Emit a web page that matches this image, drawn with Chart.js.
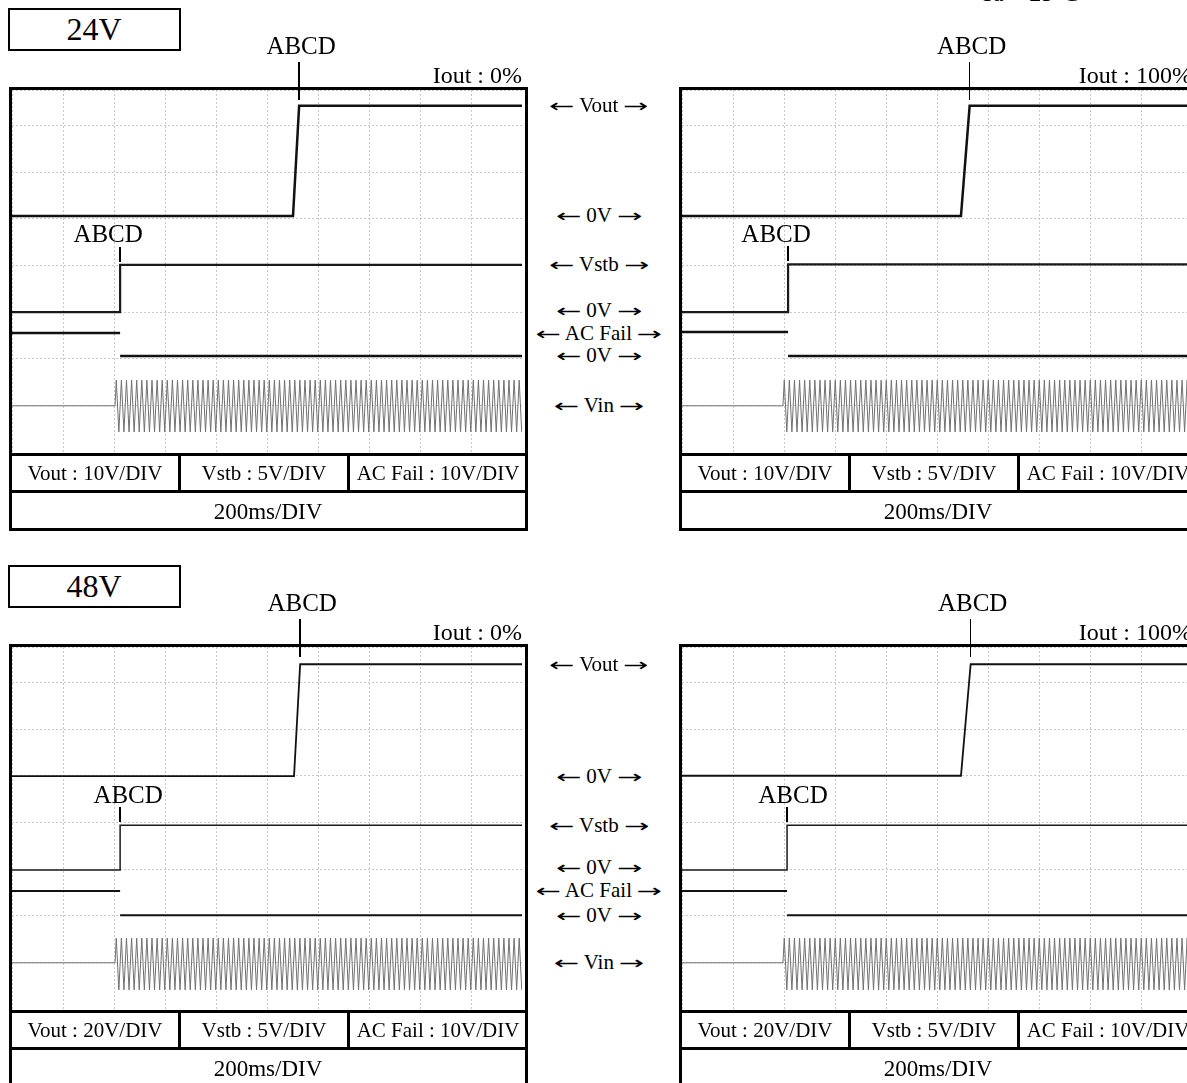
<!DOCTYPE html>
<html>
<head>
<meta charset="utf-8">
<script src="https://cdn.jsdelivr.net/npm/chart.js@4.4.1/dist/chart.umd.min.js"></script>
<style>
  body { margin: 0; background: #fff; }
  #page { position: relative; width: 1187px; height: 1083px; overflow: hidden;
          font-family: "Liberation Serif", "Times New Roman", serif; color: #000; }
  .t { position: absolute; white-space: nowrap; line-height: 1; }
  .arr { display: inline-block; font-family: "DejaVu Sans", sans-serif; font-size: 0.85em;
         transform: scaleX(1.7); margin: 0 5px; }
  .box { position: absolute; border: 3px solid #000; box-sizing: border-box; }
  .ln { position: absolute; background: #000; }
  canvas { position: absolute; }
</style>
</head>
<body>
<div id="page"></div>
<script>
// values are in scope divisions (x: 0..10 div, y: 0 = bottom of screen)
// panel order: 24V Iout 0%, 24V Iout 100%, 48V Iout 0%, 48V Iout 100%
const supplies = ['24V', '48V'];
const loads = ['Iout : 0%', 'Iout : 100%', 'Iout : 0%', 'Iout : 100%'];
const voutDiv = ['Vout : 10V/DIV', 'Vout : 10V/DIV', 'Vout : 20V/DIV', 'Vout : 20V/DIV'];
const vstbDiv = ['Vstb : 5V/DIV', 'Vstb : 5V/DIV', 'Vstb : 5V/DIV', 'Vstb : 5V/DIV'];
const acDiv = ['AC Fail : 10V/DIV', 'AC Fail : 10V/DIV', 'AC Fail : 10V/DIV', 'AC Fail : 10V/DIV'];
const timeDiv = ['200ms/DIV', '200ms/DIV', '200ms/DIV', '200ms/DIV'];
const markerText = 'ABCD';
const sideLabels = ['← Vout →', '← 0V →', '← Vstb →', '← 0V →', '← AC Fail →', '← 0V →', '← Vin →'];

const voutLow = [5.06, 5.06, 4.99, 5.0];
const voutHigh = [7.42, 7.42, 7.39, 7.39];
const voutRiseStart = [5.51, 5.47, 5.53, 5.47];
const voutRiseEnd = [5.63, 5.64, 5.65, 5.66];
const vstbLow = [3.0, 3.0, 2.98, 2.98];
const vstbHigh = [4.01, 4.02, 3.94, 3.94];
const vstbRise = [2.12, 2.08, 2.12, 2.06];
const acHigh = [2.55, 2.57, 2.53, 2.53];
const acLow = [2.06, 2.06, 2.01, 2.01];
const acFall = [2.12, 2.08, 2.12, 2.06];
const vinStart = [2.02, 1.98, 2.02, 1.98];
const vinLevel = [0.99, 0.99, 0.99, 0.99];
const vinPeak = [1.54, 1.54, 1.52, 1.52];
const vinTrough = [0.43, 0.43, 0.41, 0.41];
const vinHalfCycle = 0.05; // 50 Hz mains at 200ms/DIV

// layout
const page = document.getElementById('page');
const PLOT = { left: 12, top: 90, width: 510, height: 362 };
const panelDX = [0, 670, 0, 670];
const panelDY = [0, 0, 557, 557];
const stbLabelShift = [-12, -12, 8, 6];
const lineW = [2.5, 2.5, 1.8, 1.8];

function text(s, x, y, size, align) {
  const d = document.createElement('div');
  d.className = 't';
  d.textContent = s;
  d.style.fontSize = size + 'px';
  d.style.top = (y - size / 2) + 'px';
  if (align === 'right') {
    d.style.right = (1187 - x) + 'px';
  } else if (align === 'left') {
    d.style.left = x + 'px';
  } else {
    d.style.left = x + 'px';
    d.style.transform = 'translateX(-50%)';
  }
  page.appendChild(d);
  return d;
}
function rect(cls, x, y, w, h) {
  const d = document.createElement('div');
  d.className = cls;
  d.style.left = x + 'px'; d.style.top = y + 'px';
  d.style.width = w + 'px'; d.style.height = h + 'px';
  page.appendChild(d);
  return d;
}
// side label: arrows stretched to the long thin shape, words in the serif
function arrowLabel(s, x, y, size) {
  const d = text('', x, y, size);
  s.split(' ').forEach((part, k, all) => {
    const sp = document.createElement('span');
    if (part === '←' || part === '→') sp.className = 'arr';
    sp.textContent = part;
    d.appendChild(sp);
    if (k < all.length - 1) d.appendChild(document.createTextNode(' '));
  });
}

function vinPoints(i) {
  const pts = [{ x: 0, y: vinLevel[i] }, { x: vinStart[i], y: vinLevel[i] }];
  let up = true;
  for (let t = vinStart[i] + vinHalfCycle / 2; t < 10; t += vinHalfCycle) {
    pts.push({ x: t, y: up ? vinPeak[i] : vinTrough[i] });
    up = !up;
  }
  return pts;
}

const charts = [];
for (let i = 0; i < 4; i++) {
  const dx = panelDX[i], dy = panelDY[i];
  const cv = document.createElement('canvas');
  cv.width = PLOT.width; cv.height = PLOT.height;
  cv.style.left = (dx + PLOT.left) + 'px';
  cv.style.top = (dy + PLOT.top) + 'px';
  cv.style.width = PLOT.width + 'px';
  cv.style.height = PLOT.height + 'px';
  page.appendChild(cv);

  const ch = new Chart(cv.getContext('2d'), {
    type: 'line',
    data: {
      datasets: [{
        label: 'Vout',
        data: [{ x: 0, y: voutLow[i] }, { x: voutRiseStart[i], y: voutLow[i] },
               { x: voutRiseEnd[i], y: voutHigh[i] }, { x: 10, y: voutHigh[i] }],
        borderColor: '#111', borderWidth: lineW[i]
      }, {
        label: 'Vstb',
        data: [{ x: 0, y: vstbLow[i] }, { x: vstbRise[i], y: vstbLow[i] },
               { x: vstbRise[i], y: vstbHigh[i] }, { x: 10, y: vstbHigh[i] }],
        borderColor: '#1a1a1a', borderWidth: lineW[i] - 0.3
      }, {
        label: 'AC Fail',
        data: [{ x: 0, y: acHigh[i] }, { x: acFall[i], y: acHigh[i] }, { x: acFall[i], y: null },
               { x: acFall[i], y: acLow[i] }, { x: 10, y: acLow[i] }],
        borderColor: '#111', borderWidth: lineW[i]
      }, {
        label: 'Vin',
        data: vinPoints(i),
        borderColor: '#707070', borderWidth: 1
      }]
    },
    options: {
      responsive: false,
      animation: false,
      devicePixelRatio: 1,
      layout: { padding: 0 },
      elements: { point: { radius: 0 }, line: { tension: 0 } },
      plugins: { legend: { display: false }, tooltip: { enabled: false } },
      scales: {
        x: {
          type: 'linear', min: 0, max: 10,
          ticks: { display: false, stepSize: 1 },
          grid: { color: '#c8c8c8', lineWidth: 1, drawTicks: false },
          border: { display: false, dash: [2, 2] }
        },
        y: {
          type: 'linear', min: 0, max: 7.76,
          ticks: { display: false, stepSize: 1 },
          grid: { color: '#c8c8c8', lineWidth: 1, drawTicks: false },
          border: { display: false, dash: [2, 2] }
        }
      }
    }
  });
  charts.push(ch);

  // frame and table
  rect('box', dx + 9, dy + 87, 519, 444);
  rect('ln', dx + 9, dy + 453, 519, 3);
  rect('ln', dx + 9, dy + 490, 519, 3);
  rect('ln', dx + 178, dy + 453, 3, 38);
  rect('ln', dx + 347, dy + 453, 3, 38);
  text(voutDiv[i], dx + 95, dy + 473, 21);
  text(vstbDiv[i], dx + 264, dy + 473, 21);
  text(acDiv[i], dx + 438, dy + 473, 21);
  text(timeDiv[i], dx + 268, dy + 511, 23);

  // markers tied to the data through the x scale
  const xs = ch.scales.x, ys = ch.scales.y;
  const mOut = dx + PLOT.left + xs.getPixelForValue(voutRiseEnd[i]);
  rect('ln', mOut - 0.75, dy + 62, 1.5, 38);
  text(markerText, mOut + 2, dy + 45, 25);
  text(loads[i], dx + 522, dy + 75, 24, 'right');

  const mStb = dx + PLOT.left + xs.getPixelForValue(vstbRise[i]);
  const yStb = dy + PLOT.top + ys.getPixelForValue(vstbHigh[i]);
  rect('ln', mStb - 0.75, yStb - 18, 1.5, 15);
  text(markerText, mStb + stbLabelShift[i], yStb - 31, 25);
}

// voltage titles
for (let r = 0; r < 2; r++) {
  const y0 = r === 0 ? 8 : 565;
  const b = rect('box', 8, y0, 173, 43);
  b.style.borderWidth = '2.5px';
  text(supplies[r], 94, y0 + 21, 32);
}

// labels between the left and right scopes, at the trace levels of the left panel
for (let r = 0; r < 2; r++) {
  const i = r * 2;
  const ys = charts[i].scales.y;
  const levels = [voutHigh[i], voutLow[i], vstbHigh[i], vstbLow[i], acHigh[i], acLow[i], vinLevel[i]];
  levels.forEach((v, k) => {
    const y = panelDY[i] + PLOT.top + ys.getPixelForValue(v);
    arrowLabel(sideLabels[k], 599, y + (k === 3 ? -2 : 0), 21);
  });
}

// cut-off condition note at the top edge
text('Ta = 25°C', 980, -7, 24, 'left');
</script>
</body>
</html>
